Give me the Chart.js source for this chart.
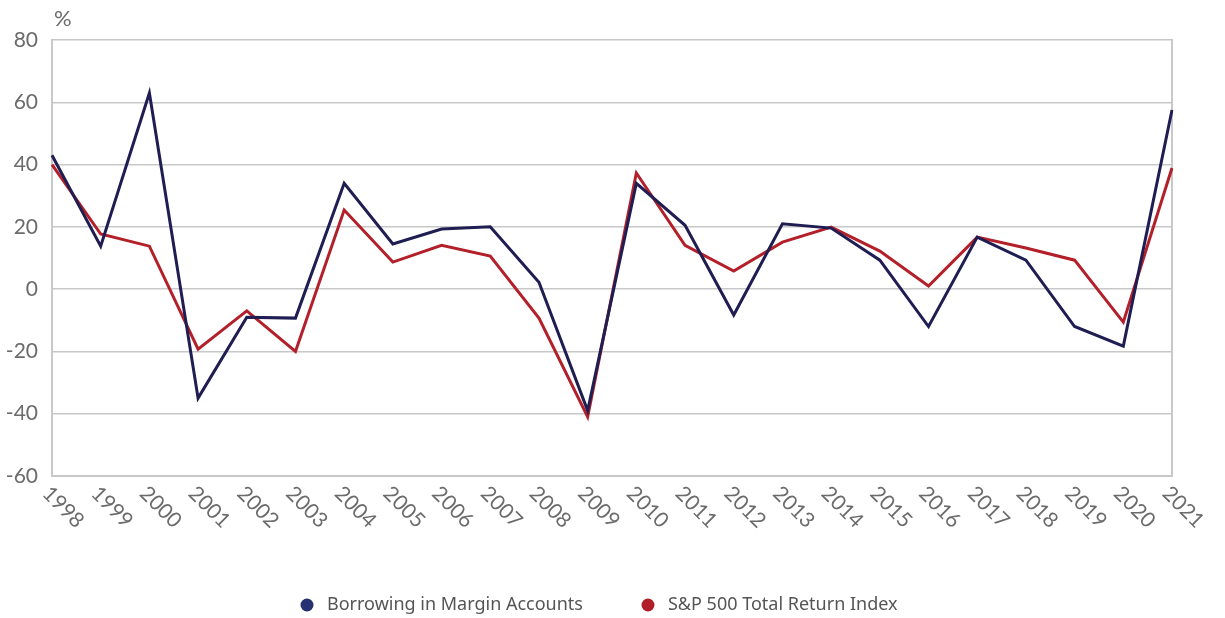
<!DOCTYPE html>
<html>
<head>
<meta charset="utf-8">
<script src="https://cdn.jsdelivr.net/npm/chart.js@4"></script>
<style>
  html, body { margin: 0; padding: 0; background: #fff; }
  #wrap { width: 1225px; height: 618px; position: relative; }
</style>
</head>
<body>
<div id="wrap"><canvas id="chart"></canvas></div>
<script>
const years = ['1998','1999','2000','2001','2002','2003','2004','2005','2006','2007','2008','2009',
  '2010','2011','2012','2013','2014','2015','2016','2017','2018','2019','2020','2021'];
const margin = [43, 13.8, 63, -35, -9, -9.3, 34, 14.5, 19.3, 20, 2.2, -39,
  34, 20.5, -8.3, 21, 19.6, 9.3, -12, 16.7, 9.3, -12, -18.3, 57.5];
const sp500 = [40, 17.7, 13.8, -19.3, -7, -20, 25.4, 8.7, 14.1, 10.6, -9.3, -41,
  37.3, 14.1, 5.8, 15.1, 19.9, 12.2, 1, 16.7, 13.2, 9.3, -10.6, 38.9];
const yTicks = [-60, -40, -20, 0, 20, 40, 60, 80];

const navy = '#1f1d52';
const red = '#b3202a';
const tickFont = 'Lato, "Open Sans", sans-serif';
const legendDots = ['#253170', '#b01e28'];

// rotated year labels, the % unit and the legend
const extras = {
  id: 'extras',
  afterDraw(chart) {
    const ctx = chart.ctx;
    const x = chart.scales.x;
    const area = chart.chartArea;
    ctx.save();
    ctx.fillStyle = '#6b6b6b';
    ctx.font = '21px ' + tickFont;
    ctx.textAlign = 'left';
    ctx.textBaseline = 'middle';
    years.forEach((yr, i) => {
      const px = x.getPixelForValue(i);
      ctx.save();
      ctx.translate(px - 6, area.bottom + 14);
      ctx.rotate(Math.PI / 4);
      ctx.fillText(yr, 0, 0);
      ctx.restore();
    });
    ctx.font = '22px ' + tickFont;
    ctx.textBaseline = 'alphabetic';
    ctx.fillText('%', area.left + 2, 26);

    // legend
    ctx.font = '18px "Noto Sans", sans-serif';
    ctx.textBaseline = 'middle';
    const items = chart.data.datasets.map(d => d.label);
    const gap = 58, dotGap = 20;
    const widths = items.map(t => ctx.measureText(t).width);
    let cx = 300;
    const cy = 605;
    items.forEach((t, i) => {
      ctx.beginPath();
      ctx.arc(cx + 7, cy, 6.5, 0, Math.PI * 2);
      ctx.fillStyle = legendDots[i];
      ctx.fill();
      ctx.fillStyle = '#555';
      ctx.fillText(t, cx + dotGap + 7, cy);
      cx += dotGap + 7 + widths[i] + gap;
    });
    ctx.restore();
  }
};

new Chart(document.getElementById('chart'), {
  type: 'line',
  data: {
    labels: years,
    datasets: [
      {
        label: 'Borrowing in Margin Accounts',
        data: margin,
        borderColor: navy,
        borderWidth: 3,
        pointRadius: 0,
        tension: 0
      },
      {
        label: 'S&P 500 Total Return Index',
        data: sp500,
        borderColor: red,
        borderWidth: 3,
        pointRadius: 0,
        tension: 0
      }
    ]
  },
  options: {
    responsive: true,
    maintainAspectRatio: false,
    animation: false,
    layout: { padding: { top: 40, right: 53, bottom: 0, left: 0 } },
    plugins: {
      legend: { display: false },
      tooltip: { enabled: false }
    },
    scales: {
      x: {
        offset: false,
        grid: { display: false, drawTicks: false },
        border: { display: true, color: '#c8c8c8', width: 2 },
        ticks: { display: false },
        afterFit(scale) { scale.height = 142; }
      },
      y: {
        min: -60,
        max: 80,
        afterBuildTicks(scale) { scale.ticks = yTicks.map(v => ({ value: v })); },
        grid: { color: '#c8c8c8', lineWidth: 1.5, drawTicks: false },
        border: { display: true, color: '#c8c8c8', width: 2 },
        ticks: {
          color: '#6b6b6b',
          padding: 14,
          font: { family: tickFont, size: 21 }
        },
        afterFit(scale) { scale.width = 52; }
      },
      y2: {
        position: 'right',
        min: -60,
        max: 80,
        grid: { display: false, drawTicks: false },
        border: { display: true, color: '#c8c8c8', width: 2 },
        ticks: { display: false },
        afterFit(scale) { scale.width = 0; }
      }
    }
  },
  plugins: [extras]
});
</script>
</body>
</html>
